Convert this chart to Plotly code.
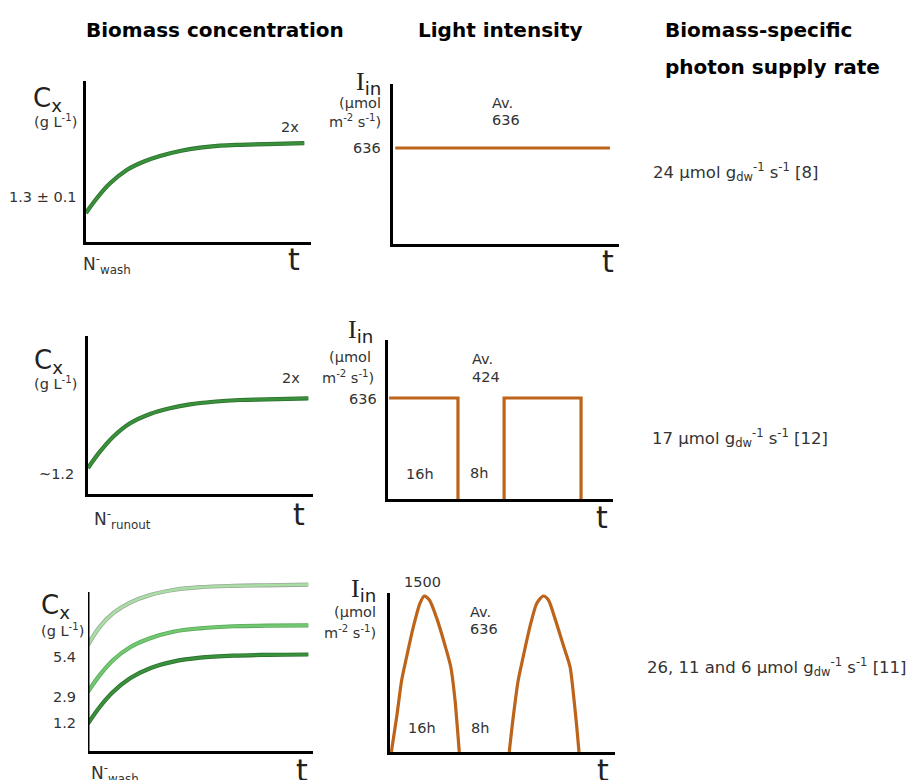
import plotly.graph_objects as go

W, H = 911, 780

# ---------------- data ----------------
# Biomass concentration panels (time in arbitrary units 0-100, Cx in g/L)
t_wash = [0, 4.8, 10.7, 18.1, 25.5, 32.9, 41.8, 50.7, 59.6, 68.4, 80.3, 97.0]
cx_wash = [1.3, 1.96, 2.63, 3.23, 3.60, 3.86, 4.08, 4.23, 4.32, 4.36, 4.39, 4.43]

t_runout = [0, 5.3, 11.2, 18.7, 27.6, 36.4, 45.3, 55.7, 67.6, 79.4, 97.9]
cx_runout = [1.2, 1.95, 2.64, 3.26, 3.69, 3.95, 4.13, 4.25, 4.33, 4.36, 4.41]

t_multi = [0, 5.3, 11.2, 18.7, 27.6, 37.9, 49.8, 64.6, 79.4, 97.9]
cx_multi_low = [1.2, 2.10, 2.90, 3.62, 4.16, 4.51, 4.72, 4.83, 4.87, 4.89]
cx_multi_mid = [2.9, 3.80, 4.60, 5.28, 5.76, 6.11, 6.29, 6.40, 6.43, 6.45]
cx_multi_high = [5.4, 6.38, 7.10, 7.66, 8.07, 8.34, 8.49, 8.56, 8.59, 8.63]

# Light intensity panels (I_in in umol m-2 s-1)
t_const = [1.0, 96.0]
i_const = [636, 636]

t_square = [0.5, 31.1, 31.1, None, 51.6, 51.6, 85.8, 85.8]
i_square = [636, 636, 0, None, 0, 636, 636, 0]

t_sine_1 = [0.6, 3.0, 5.2, 7.4, 10.4, 13.3, 15.2, 17.5, 20.8, 24.4, 27.0, 28.9, 29.9, 30.8]
t_sine_2 = [53.0, 54.8, 57.0, 59.2, 62.2, 65.2, 68.1, 70.4, 73.3, 77.0, 80.0, 81.8, 83.0, 84.0]
i_sine = [0, 341, 692, 916, 1205, 1429, 1500, 1462, 1285, 1029, 820, 500, 243, 0]

supply_rates = [
    "24 µmol g<sub>dw</sub><sup>-1</sup> s<sup>-1</sup> [8]",
    "17 µmol g<sub>dw</sub><sup>-1</sup> s<sup>-1</sup> [12]",
    "26, 11 and 6 µmol g<sub>dw</sub><sup>-1</sup> s<sup>-1</sup> [11]",
]

# ---------------- styling ----------------
GREEN = "#3a913c"
GREEN_EDGE = "#2b6f2d"
GREEN_MID = "#72c870"
GREEN_MID_EDGE = "#5aa85a"
GREEN_LIGHT = "#a9dfa4"
GREEN_LIGHT_EDGE = "#9aa89a"
ORANGE = "#bd631a"
TXT = "#333333"
BODY = "DejaVu Sans"
HEAD = "DejaVu Sans"

# panel boxes in pixels: left, right, bottom, top
panels = {
    1: (86, 311, 242, 81),
    2: (393, 619, 244, 84),
    3: (88, 313, 494, 336),
    4: (388, 613, 499, 340),
    5: (88, 313, 751, 578),
    6: (390, 615, 752, 593),
}
y_ranges = {
    1: [0, 7.22],
    2: [0, 1060],
    3: [0, 7.28],
    4: [0, 1001],
    5: [-0.267, 8.98],
    6: [0, 1529],
}

fig = go.Figure()


def curve(n, x, y, color, edge, width=2.6, shape="spline", smoothing=1.0):
    ax = "" if n == 1 else str(n)
    for c, w in ((edge, width + 1.6), (color, width)):
        fig.add_trace(go.Scatter(
            x=x, y=y, mode="lines", xaxis="x" + ax, yaxis="y" + ax,
            line=dict(color=c, width=w, shape=shape, smoothing=smoothing),
            hoverinfo="skip", showlegend=False))


def line(n, x, y, color=ORANGE, width=3.2, shape="linear", smoothing=1.0):
    ax = "" if n == 1 else str(n)
    fig.add_trace(go.Scatter(
        x=x, y=y, mode="lines", xaxis="x" + ax, yaxis="y" + ax,
        line=dict(color=color, width=width, shape=shape, smoothing=smoothing),
        connectgaps=False, hoverinfo="skip", showlegend=False))


curve(1, t_wash, cx_wash, GREEN, GREEN_EDGE)
curve(3, t_runout, cx_runout, GREEN, GREEN_EDGE)
curve(5, t_multi, cx_multi_high, GREEN_LIGHT, GREEN_LIGHT_EDGE)
curve(5, t_multi, cx_multi_mid, GREEN_MID, GREEN_MID_EDGE)
curve(5, t_multi, cx_multi_low, GREEN, GREEN_EDGE)

line(2, t_const, i_const)
line(4, t_square, i_square)
line(6, t_sine_1, i_sine, shape="spline", smoothing=0.7)
line(6, t_sine_2, i_sine, shape="spline", smoothing=0.7)

layout = dict(
    width=W, height=H, margin=dict(l=0, r=0, t=0, b=0),
    paper_bgcolor="white", plot_bgcolor="rgba(0,0,0,0)",
    showlegend=False,
)
for n, (l, r, b, t) in panels.items():
    ax = "" if n == 1 else str(n)
    layout["xaxis" + ax] = dict(
        domain=[l / W, r / W], range=[0, 100], anchor="y" + ax,
        showgrid=False, zeroline=False, showticklabels=False, ticks="",
        showline=True, linecolor="black", linewidth=3, fixedrange=True)
    layout["yaxis" + ax] = dict(
        domain=[1 - b / H, 1 - t / H], range=y_ranges[n], anchor="x" + ax,
        showgrid=False, zeroline=False, showticklabels=False, ticks="",
        showline=(n != 5), linecolor="black", linewidth=3, fixedrange=True)
fig.update_layout(**layout)

# y axis line of the third biomass panel (curves extend above it)
fig.add_shape(type="line", xref="x5", yref="y5", x0=0, x1=0, y0=-0.267, y1=8.235,
              line=dict(color="black", width=3))

ann = []


def txt(s, px, py, size=14.5, anchor="left", family=BODY, color=TXT):
    ann.append(dict(text=s, x=px / W, y=1 - py / H, xref="paper", yref="paper",
                    xanchor=anchor, yanchor="middle", showarrow=False,
                    font=dict(family=family, size=size, color=color)))


# headers
txt("<b>Biomass concentration</b>", 215, 30, 20, "center", HEAD, "black")
txt("<b>Light intensity</b>", 500, 30, 20, "center", HEAD, "black")
txt("<b>Biomass-specific</b>", 663, 30, 20, "left", HEAD, "black")
txt("<b>photon supply rate</b>", 663, 67, 20, "left", HEAD, "black")

CX = "C<sub>x</sub>"
UNIT_C = "(g L<sup>-1</sup>)"
IIN = "<span style='font-family:Liberation Serif'>I</span><sub>in</sub>"
UNIT_I1 = "(µmol"
UNIT_I2 = "m<sup>-2</sup> s<sup>-1</sup>)"

# biomass row 1
txt(CX, 31, 100, 26, "left", color="#222")
txt(UNIT_C, 32, 121)
txt("2x", 290, 127, anchor="center")
txt("1.3 ± 0.1", 79, 197, anchor="right")
txt("N<sup>-</sup><sub>wash</sub>", 81, 264, 17)
txt("t", 294, 260, 30, "center", color="#222")
# biomass row 2
txt(CX, 32, 361, 26, "left", color="#222")
txt(UNIT_C, 32, 383)
txt("2x", 291, 378, anchor="center")
txt("~1.2", 76, 474, anchor="right")
txt("N<sup>-</sup><sub>runout</sub>", 92, 519, 17)
txt("t", 299, 514, 30, "center", color="#222")
# biomass row 3
txt(CX, 39, 606, 26, "left", color="#222")
txt(UNIT_C, 39, 630)
txt("5.4", 78, 657, anchor="right")
txt("2.9", 78, 697, anchor="right")
txt("1.2", 78, 723, anchor="right")
txt("N<sup>-</sup><sub>wash</sub>", 89, 773, 17)
txt("t", 302, 770, 30, "center", color="#222")

# light row 1
txt(IIN, 383, 83, 26, "right", color="#222")
txt(UNIT_I1, 383, 103, anchor="right")
txt(UNIT_I2, 383, 121, anchor="right")
txt("636", 383, 148, anchor="right")
txt("Av.", 490, 103)
txt("636", 490, 120)
txt("t", 608, 262, 30, "center", color="#222")
# light row 2
txt(IIN, 375, 331, 26, "right", color="#222")
txt(UNIT_I1, 373, 357, anchor="right")
txt(UNIT_I2, 376, 377, anchor="right")
txt("636", 379, 399, anchor="right")
txt("Av.", 470, 359)
txt("424", 470, 377)
txt("16h", 420, 474, anchor="center")
txt("8h", 479, 473, anchor="center")
txt("t", 602, 517, 30, "center", color="#222")
# light row 3
txt("1500", 422, 582, anchor="center")
txt(IIN, 378, 590, 26, "right", color="#222")
txt(UNIT_I1, 378, 612, anchor="right")
txt(UNIT_I2, 378, 632, anchor="right")
txt("Av.", 468, 612)
txt("636", 468, 629)
txt("16h", 422, 728, anchor="center")
txt("8h", 480, 728, anchor="center")
txt("t", 603, 770, 30, "center", color="#222")

# photon supply rates
for s, (px, py) in zip(supply_rates, [(651, 172), (650, 438), (645, 667)]):
    txt(s, px, py, 16.5)

fig.update_layout(annotations=ann)
fig.write_html("out.html")
